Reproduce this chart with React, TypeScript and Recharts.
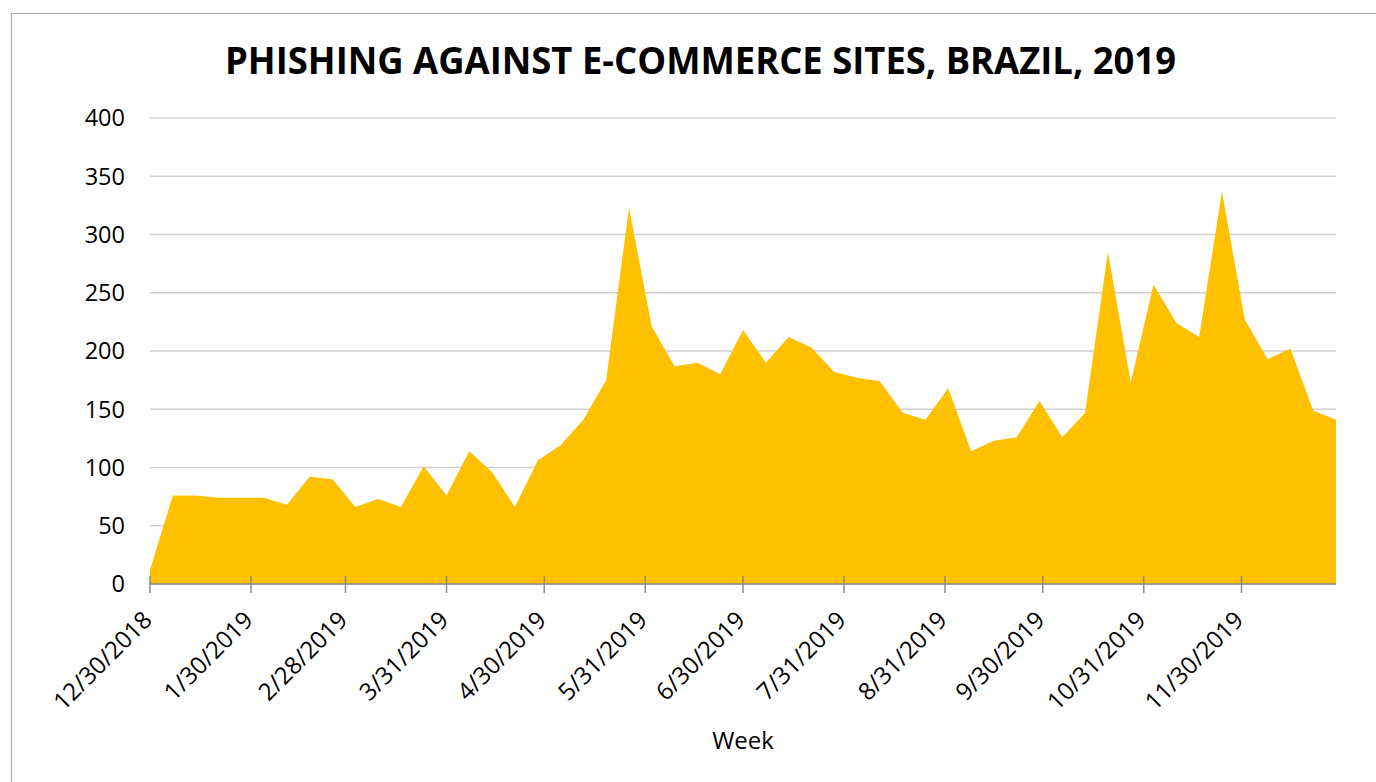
import React from "react";
import { AreaChart, Area, XAxis, YAxis, CartesianGrid } from "recharts";

const weeks = [
  "12/30/2018", "1/6/2019", "1/13/2019", "1/20/2019", "1/27/2019",
  "2/3/2019", "2/10/2019", "2/17/2019", "2/24/2019",
  "3/3/2019", "3/10/2019", "3/17/2019", "3/24/2019", "3/31/2019",
  "4/7/2019", "4/14/2019", "4/21/2019", "4/28/2019",
  "5/5/2019", "5/12/2019", "5/19/2019", "5/26/2019",
  "6/2/2019", "6/9/2019", "6/16/2019", "6/23/2019", "6/30/2019",
  "7/7/2019", "7/14/2019", "7/21/2019", "7/28/2019",
  "8/4/2019", "8/11/2019", "8/18/2019", "8/25/2019",
  "9/1/2019", "9/8/2019", "9/15/2019", "9/22/2019", "9/29/2019",
  "10/6/2019", "10/13/2019", "10/20/2019", "10/27/2019",
  "11/3/2019", "11/10/2019", "11/17/2019", "11/24/2019",
  "12/1/2019", "12/8/2019", "12/15/2019", "12/22/2019", "12/29/2019",
];

const phishing = [
  12, 76, 76, 74, 74, 74, 68, 92, 90, 66, 73, 66, 101,
  76, 114, 96, 66, 106, 119, 141, 175, 323, 221, 187, 190, 180,
  218, 190, 212, 203, 182, 177, 174, 147, 141, 168, 114, 123, 126,
  157, 126, 147, 285, 173, 257, 224, 212, 337, 227, 193, 202, 149, 141,
];

const tickLabels = [
  "12/30/2018", "1/30/2019", "2/28/2019", "3/31/2019", "4/30/2019", "5/31/2019",
  "6/30/2019", "7/31/2019", "8/31/2019", "9/30/2019", "10/31/2019", "11/30/2019",
];

const yTicks = [0, 50, 100, 150, 200, 250, 300, 350, 400];

const TITLE = "PHISHING AGAINST E-COMMERCE SITES, BRAZIL, 2019";
const X_LABEL = "Week";

const toTime = (s: string) => {
  const [m, d, y] = s.split("/").map(Number);
  return Date.UTC(y, m - 1, d);
};

const fmt = (t: number) => {
  const dt = new Date(t);
  return `${dt.getUTCMonth() + 1}/${dt.getUTCDate()}/${dt.getUTCFullYear()}`;
};

const data = weeks.map((w, i) => ({ t: toTime(w), value: phishing[i] }));
const xTicks = tickLabels.map(toTime);
const FONT = "'Open Sans', sans-serif";

const TICK_SIZE = 9;

const XTick = (props: any) => {
  const { x, y, payload } = props;
  const axisY = y - TICK_SIZE;
  const tx = x + 3.5;
  const ty = axisY + 37.5;
  return (
    <g>
      <line x1={x} x2={x} y1={axisY - 8} y2={axisY + 9} stroke="#8c8c8c" strokeWidth={1.5} />
      <text
        x={tx}
        y={ty}
        transform={`rotate(-45, ${tx}, ${ty})`}
        textAnchor="end"
        fontSize={24}
        fontFamily={FONT}
        fill="#000"
      >
        {fmt(payload.value)}
      </text>
    </g>
  );
};

export default function App() {
  return (
    <div style={{ position: "absolute", left: 0, top: 0, width: 1376, height: 782, background: "#fff" }}>
      <AreaChart
        width={1376}
        height={782}
        data={data}
        margin={{ top: 118, right: 40, left: 0, bottom: 48 }}
      >
        <CartesianGrid vertical={false} stroke="#d0d0d0" strokeWidth={1.3} />
        <Area
          type="linear"
          dataKey="value"
          stroke="none"
          fill="#FFC000"
          fillOpacity={1}
          isAnimationActive={false}
        />
        <XAxis
          dataKey="t"
          type="number"
          domain={[toTime(weeks[0]), toTime(weeks[weeks.length - 1])]}
          ticks={xTicks}
          interval={0}
          height={150}
          tickLine={false}
          tickSize={TICK_SIZE}
          tickMargin={0}
          axisLine={{ stroke: "#8c8c8c", strokeWidth: 1.5 }}
          tick={<XTick />}
        />
        <YAxis
          type="number"
          domain={[0, 400]}
          ticks={yTicks}
          interval={0}
          width={150}
          axisLine={false}
          tickLine={false}
          tickSize={0}
          tickMargin={25}
          tick={{ fontSize: 23.5, fontFamily: FONT, fill: "#000" }}
        />
      </AreaChart>
      <svg
        width={1376}
        height={782}
        style={{ position: "absolute", left: 0, top: 0, pointerEvents: "none" }}
      >
        <rect x={11.5} y={13.5} width={1420} height={820} fill="none" stroke="#b0b0b0" strokeWidth={1.3} />
        <text
          x={225}
          y={74}
          fontSize={37}
          fontWeight="bold"
          fontFamily={FONT}
          fill="#000"
          textLength={951}
          lengthAdjust="spacingAndGlyphs"
        >
          {TITLE}
        </text>
        <text x={743} y={749} fontSize={24} fontFamily={FONT} fill="#000" textAnchor="middle">
          {X_LABEL}
        </text>
      </svg>
    </div>
  );
}
